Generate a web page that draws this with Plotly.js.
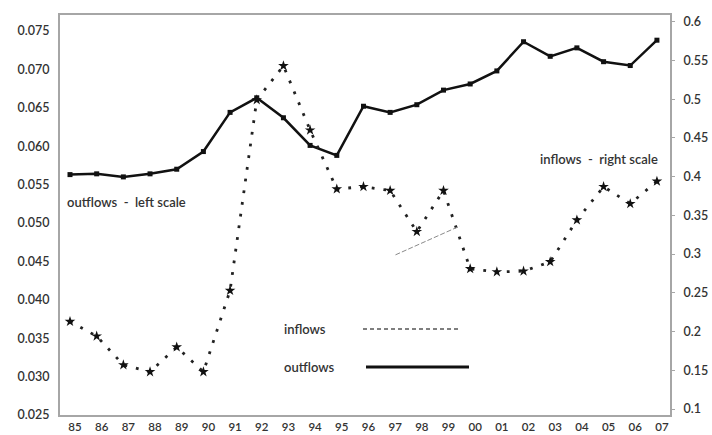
<!DOCTYPE html>
<html>
<head>
<meta charset="utf-8">
<script src="https://cdn.plot.ly/plotly-3.0.1.min.js"></script>
<style>
html,body{margin:0;padding:0;background:#fff;}
#chart{width:712px;height:435px;}
</style>
</head>
<body>
<div id="chart"></div>
<script>
// Year labels (categories)
var years = ["85","86","87","88","89","90","91","92","93","94","95","96","97","98","99","00","01","02","03","04","05","06","07"];
// Outflows (left scale)
var outflows = [0.0563,0.0564,0.0560,0.0564,0.0570,0.0593,0.0644,0.0663,0.0637,0.0601,0.0588,0.0652,0.0644,0.0654,0.0673,0.0681,0.0698,0.0736,0.0717,0.0728,0.0710,0.0705,0.0738];
// Inflows (right scale)
var inflows = [0.213,0.194,0.157,0.148,0.180,0.148,0.253,0.499,0.543,0.460,0.384,0.387,0.382,0.329,0.382,0.281,0.277,0.278,0.290,0.344,0.387,0.365,0.394];
// Faint stray stroke visible in the picture (right scale)
var strayX = [12.2,14.6];
var strayY = [0.299,0.336];
// Tick labels
var leftTicks = [0.025,0.030,0.035,0.040,0.045,0.050,0.055,0.060,0.065,0.070,0.075];
var rightTicks = [0.1,0.15,0.2,0.25,0.3,0.35,0.4,0.45,0.5,0.55,0.6];

var idx = years.map(function(_, i){ return i; });
var font = "Lato, 'Open Sans', sans-serif";
var txtColor = "#333";
var axisColor = "#a6a6a6";

var traces = [
  {
    x: idx, y: outflows, type: "scatter", mode: "lines+markers", name: "outflows",
    yaxis: "y",
    line: {color: "#111", width: 2.5},
    marker: {symbol: "square", size: 5, color: "#111"}
  },
  {
    x: idx, y: inflows, type: "scatter", mode: "lines+markers", name: "inflows",
    yaxis: "y2",
    line: {color: "#222", width: 2.8, dash: "2.8px,9px"},
    marker: {symbol: "star", size: 8, color: "#111"}
  },
  {
    x: strayX, y: strayY, type: "scatter", mode: "lines", name: "stray",
    yaxis: "y2",
    line: {color: "#8a8a8a", width: 1, dash: "5px,2px"}
  }
];

var layout = {
  width: 712, height: 435,
  margin: {l: 60, r: 42, t: 15, b: 20},
  paper_bgcolor: "#fff", plot_bgcolor: "#fff",
  showlegend: false,
  font: {family: font, size: 12, color: txtColor},
  xaxis: {
    range: [-0.375, 22.49],
    tickvals: idx, ticktext: years,
    showgrid: false, zeroline: false,
    showline: true, mirror: true, linecolor: axisColor, linewidth: 2,
    ticks: "", ticklabelshift: 5, ticklabelstandoff: 0,
    tickfont: {family: font, size: 11.5, color: txtColor, weight: 600}
  },
  yaxis: {
    range: [0.025, 0.07708],
    tickvals: leftTicks, tickformat: ".3f",
    showgrid: false, zeroline: false,
    showline: true, linecolor: axisColor, linewidth: 2,
    ticks: "", ticklabelstandoff: 6,
    tickfont: {family: font, size: 12.5, color: txtColor, weight: 600}
  },
  yaxis2: {
    overlaying: "y", side: "right",
    range: [0.0923, 0.6086],
    tickvals: rightTicks,
    showgrid: false, zeroline: false,
    showline: true, linecolor: axisColor, linewidth: 2,
    ticks: "outside", ticklen: 3, tickcolor: axisColor,
    ticklabelstandoff: 6,
    tickfont: {family: font, size: 12.5, color: txtColor, weight: 600}
  },
  annotations: [
    {xref: "paper", yref: "paper", x: (65-60)/610, y: (415-202)/400, xanchor: "left", yanchor: "middle",
     text: "outflows  -  left scale", showarrow: false, font: {family: font, size: 13, color: txtColor, weight: 600}},
    {xref: "paper", yref: "paper", x: (660-60)/610, y: (415-159)/400, xanchor: "right", yanchor: "middle",
     text: "inflows  -  right scale", showarrow: false, font: {family: font, size: 13, color: txtColor, weight: 600}},
    {xref: "paper", yref: "paper", x: (282-60)/610, y: (415-329)/400, xanchor: "left", yanchor: "middle",
     text: "inflows", showarrow: false, font: {family: font, size: 13, color: txtColor, weight: 600}},
    {xref: "paper", yref: "paper", x: (282-60)/610, y: (415-367)/400, xanchor: "left", yanchor: "middle",
     text: "outflows", showarrow: false, font: {family: font, size: 13, color: txtColor, weight: 600}}
  ],
  shapes: [
    {type: "line", xref: "paper", yref: "paper", x0: (363-60)/610, x1: (460-60)/610, y0: (415-329)/400, y1: (415-329)/400,
     line: {color: "#555", width: 1.5, dash: "4px,3px"}},
    {type: "line", xref: "paper", yref: "paper", x0: (366-60)/610, x1: (469-60)/610, y0: (415-367)/400, y1: (415-367)/400,
     line: {color: "#111", width: 3}}
  ]
};

Plotly.newPlot("chart", traces, layout, {displayModeBar: false, staticPlot: true});
</script>
</body>
</html>
